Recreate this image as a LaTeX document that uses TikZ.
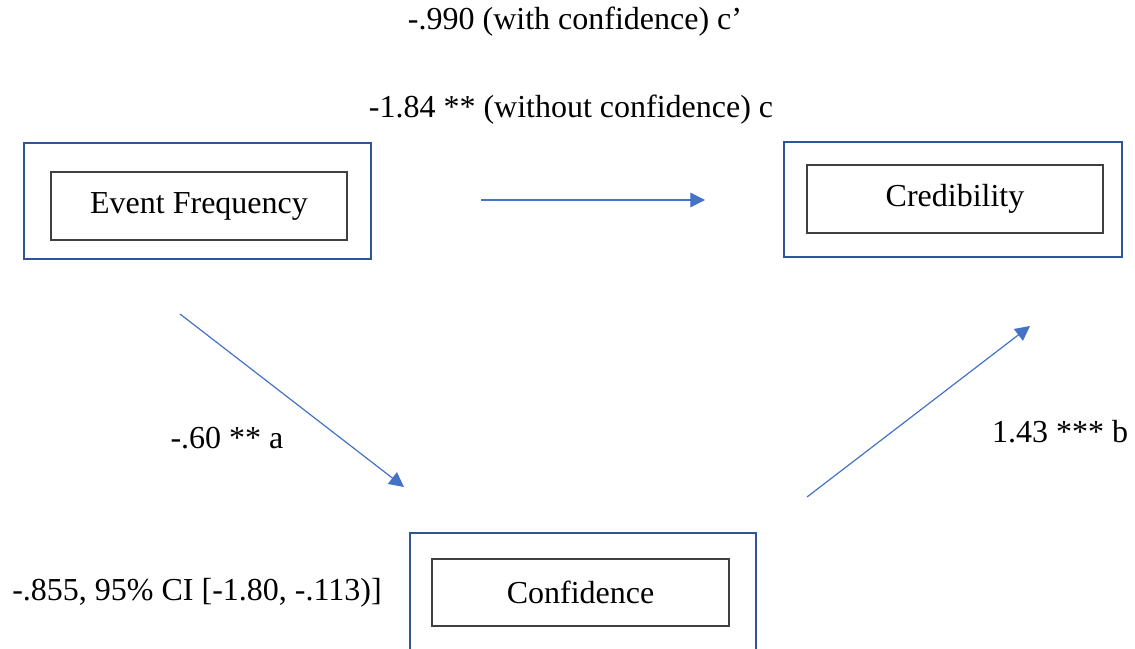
\documentclass[tikz,border=0pt]{standalone}
\usepackage{fontspec}
\setmainfont{Liberation Serif}
\usetikzlibrary{arrows.meta}
\definecolor{boxblue}{RGB}{47,85,151}
\definecolor{arrowblue}{RGB}{68,114,196}

\begin{document}
\begin{tikzpicture}[x=0.75pt, y=-0.75pt]
  \tikzstyle{outer}=[rectangle, draw=boxblue, line width=1.8pt]
  \tikzstyle{inner}=[rectangle, draw=black!75, line width=1.1pt, minimum width=222pt, minimum height=51pt, font=\fontsize{24}{29}\selectfont]
  \tikzstyle{lbl}=[inner sep=0pt, font=\fontsize{24}{29}\selectfont]
  \tikzstyle{connect}=[-{Triangle[length=11pt, width=11pt]}, draw=arrowblue, line width=0.9pt]
  \useasboundingbox (0,0) rectangle (1135,649);
    % variables
    \node[outer, minimum width=260pt, minimum height=87pt] (freqouter) at (197.5,201) {};
    \node[inner] (freq) at (199,206) {Event Frequency};
    \node[outer, minimum width=253.5pt, minimum height=86.25pt] (credouter) at (953,199.5) {};
    \node[inner] (cred) at (955,199) {Credibility};
    \node[outer, minimum width=259.5pt, minimum height=97.5pt] (confouter) at (583,598) {};
    \node[inner, minimum width=222.75pt, minimum height=50.25pt] (conf) at (580.5,592.5) {Confidence};
    % paths
    \coordinate (c0) at (481,200);
    \coordinate (c1) at (705,200);
    \coordinate (a0) at (180,314);
    \coordinate (a1) at (404,487);
    \coordinate (b0) at (807,497);
    \coordinate (b1) at (1030,326);
    \path (c0) edge [connect] (c1)
          (a0) edge [connect] (a1)
          (b0) edge [connect] (b1);
    % coefficients
    \node[lbl] (cprime) at (575,22) {-.990 (with confidence) c’};
    \node[lbl] (ctotal) at (571,110) {-1.84 ** (without confidence) c};
    \node[lbl] (apath) at (227,438) {-.60 ** a};
    \node[lbl] (bpath) at (1060,432) {1.43 *** b};
    \node[lbl] (indirect) at (197,593) {-.855, 95\% CI [-1.80, -.113)]};
  \end{tikzpicture}
\end{document}
